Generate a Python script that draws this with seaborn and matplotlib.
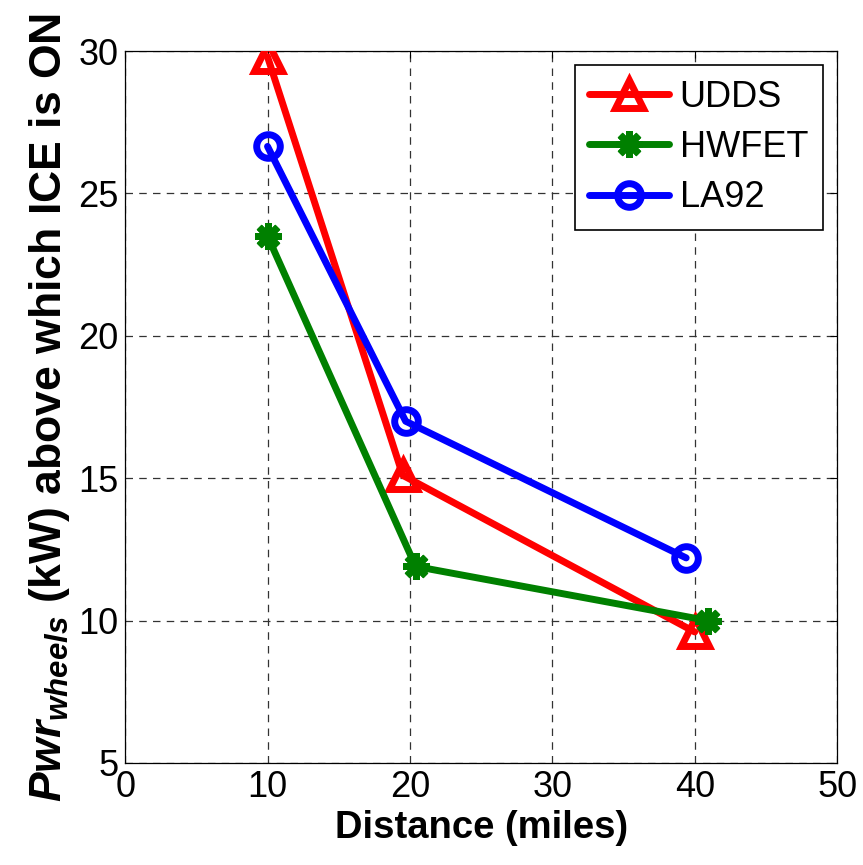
import matplotlib
matplotlib.use("Agg")
import matplotlib.pyplot as plt
import seaborn as sns
import pandas as pd

# Distance (miles) and wheel power threshold (kW) for each drive cycle
udds_dist = [10.0, 19.5, 40.0]
udds_pwr = [29.8, 15.1, 9.6]
hwfet_dist = [10.0, 20.4, 40.9]
hwfet_pwr = [23.5, 11.9, 10.0]
la92_dist = [10.0, 19.7, 39.4]
la92_pwr = [26.65, 17.0, 12.2]

cycles = ["UDDS", "HWFET", "LA92"]
x_ticks = [0, 10, 20, 30, 40, 50]
y_ticks = [5, 10, 15, 20, 25, 30]

sns.set_style("white")
plt.rcParams["font.family"] = ["Liberation Sans", "DejaVu Sans"]
plt.rcParams["text.color"] = "black"
plt.rcParams["axes.labelcolor"] = "black"
plt.rcParams["mathtext.fontset"] = "custom"
plt.rcParams["mathtext.it"] = "Liberation Sans:italic:bold"
plt.rcParams["mathtext.rm"] = "Liberation Sans:bold"
plt.rcParams["mathtext.bf"] = "Liberation Sans:bold"

fig = plt.figure(figsize=(8.63, 8.65), dpi=100)
ax = fig.add_axes([0.145, 0.118, 0.825, 0.823])

series = [
    (udds_dist, udds_pwr, "#ff0000", "^", 20),
    (hwfet_dist, hwfet_pwr, "#008000", (8, 2, 0), 19),
    (la92_dist, la92_pwr, "#0000ff", "o", 17),
]

for name, (xs, ys, color, mk, ms) in zip(cycles, series):
    df = pd.DataFrame({"dist": xs, "pwr": ys})
    sns.lineplot(data=df, x="dist", y="pwr", ax=ax, sort=False, color=color,
                 linewidth=5, marker=mk, markersize=ms, markeredgewidth=5,
                 markerfacecolor="none", markeredgecolor=color, label=name,
                 zorder=3)

ax.set_xlim(0, 50)
ax.set_ylim(5, 30)
ax.set_xticks(x_ticks)
ax.set_yticks(y_ticks)
ax.tick_params(axis="both", direction="in", length=5, width=0.8, labelsize=26,
               top=True, right=True, pad=5, colors="black")
ax.grid(True, which="major", color="#333333", linestyle=(0, (6, 5)), linewidth=0.9)
for sp in ax.spines.values():
    sp.set_color("black")
    sp.set_linewidth(0.9)

ax.set_xlabel("Distance (miles)", fontsize=27.5, fontweight="bold", labelpad=4)
ax.set_ylabel(r"$Pwr_{wheels}$ (kW) above which ICE is ON", fontsize=32,
              fontweight="bold", labelpad=4)

leg = ax.legend(loc="upper right", fontsize=26, frameon=True, fancybox=False,
                edgecolor="black", framealpha=1, handlelength=2.2,
                borderpad=0.4, labelspacing=0.42, handletextpad=0.3,
                borderaxespad=0.4, labelcolor="black")
leg.get_frame().set_linewidth(1.2)

fig.savefig("out.png", dpi=100)
